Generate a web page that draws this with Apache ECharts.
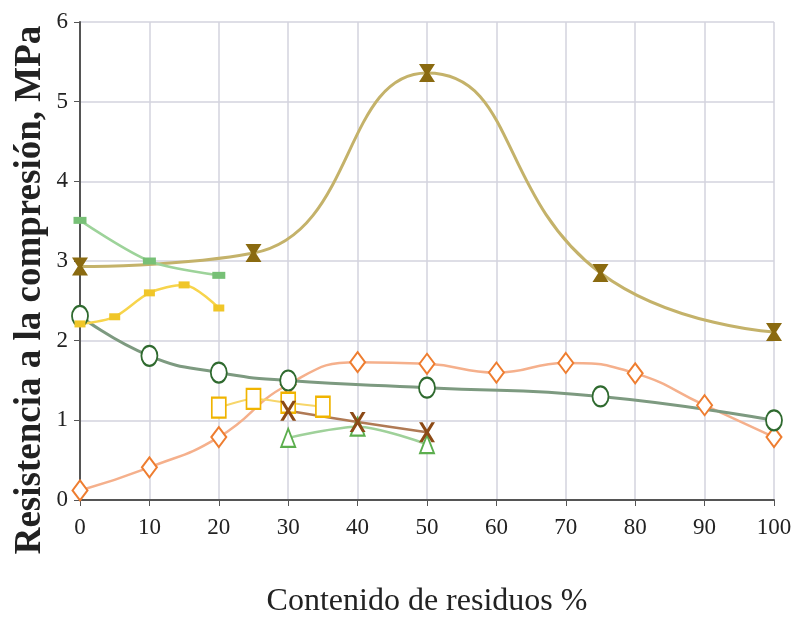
<!DOCTYPE html>
<html><head><meta charset="utf-8">
<script src="https://cdn.jsdelivr.net/npm/echarts@6/dist/echarts.min.js"></script>
<style>html,body{margin:0;padding:0;background:#fff}#c{width:793px;height:620px}</style>
</head><body><div id="c"></div>
<script>
const xTicks = [0,10,20,30,40,50,60,70,80,90,100];
const yTicks = [0,1,2,3,4,5,6];
const sStarX = [0,25,50,75,100];
const sStarY = [2.93,3.1,5.36,2.85,2.11];
const sLgX = [0,10,20];
const sLgY = [3.51,3.0,2.82];
const sYsX = [0,5,10,15,20];
const sYsY = [2.21,2.3,2.6,2.7,2.41];
const sCirX = [0,10,20,30,50,75,100];
const sCirY = [2.31,1.81,1.6,1.5,1.41,1.3,1.0];
const sDiaX = [0,10,20,30,40,50,60,70,80,90,100];
const sDiaY = [0.12,0.41,0.79,1.45,1.73,1.71,1.6,1.72,1.59,1.19,0.79];
const sSqX = [20,25,30,35];
const sSqY = [1.16,1.27,1.22,1.17];
const sXX = [30,40,50];
const sXY = [1.12,0.98,0.85];
const sTriX = [30,40,50];
const sTriY = [0.78,0.92,0.7];
const yTitle = 'Resistencia a la compresión, MPa';
const xTitle = 'Contenido de residuos %';

const pts = (xs, ys) => xs.map((x,i)=>[x, ys[i]]);
const starPath = 'path://M1,0 L9,0 L9,1 L8.3,1 L6,5 L8.3,9 L9,9 L9,10 L1,10 L1,9 L1.7,9 L4,5 L1.7,1 L1,1 Z M0,0 L2.5,0 L5,3.4 L7.5,0 L10,0 L6.4,5 L10,10 L7.5,10 L5,6.6 L2.5,10 L0,10 L3.6,5 Z';
const xPath = 'path://M0,0 L2.2,0 L5,3.6 L7.8,0 L10,0 L6.2,5 L10,10 L7.8,10 L5,6.4 L2.2,10 L0,10 L3.8,5 Z';

const chart = echarts.init(document.getElementById('c'));
const serif = '"Liberation Serif","DejaVu Serif",serif';
chart.setOption({
  animation:false,
  grid:{left:80,right:19,top:22,bottom:120,containLabel:false,outerBoundsMode:'none'},
  graphic:[{type:'text',x:30,y:290,rotation:Math.PI/2,
    style:{text:yTitle,x:0,y:0,align:'center',verticalAlign:'middle',fill:'#222',
      font:'bold 37px "Liberation Serif","DejaVu Serif",serif'}}],
  xAxis:{type:'value',min:0,max:100,interval:10,
    axisLine:{lineStyle:{color:'#555',width:2}},
    axisTick:{show:true,length:6,lineStyle:{color:'#555'}},
    axisLabel:{color:'#222',fontFamily:serif,fontSize:23,margin:16},
    splitLine:{show:true,lineStyle:{color:'#d3d3de',width:1.5}},
    name:xTitle,nameLocation:'middle',nameGap:86,
    nameTextStyle:{color:'#222',fontFamily:serif,fontSize:32}},
  yAxis:{type:'value',min:0,max:6,interval:1,
    axisLine:{show:true,lineStyle:{color:'#555',width:2}},
    axisTick:{show:true,length:6,lineStyle:{color:'#555'}},
    axisLabel:{color:'#222',fontFamily:serif,fontSize:23,margin:12},
    splitLine:{show:true,lineStyle:{color:'#d3d3de',width:1.5}}},
  series:[
    {type:'line',data:pts(sDiaX,sDiaY),smooth:0.5,symbol:'emptyDiamond',symbolSize:[15,20],
      lineStyle:{color:'#f5b08c',width:2.5},itemStyle:{color:'#ee7d30',borderWidth:2.5,borderColor:'#ee7d30'}},
    {type:'line',data:pts(sCirX,sCirY),smooth:0.5,symbol:'emptyCircle',symbolSize:[16,20],
      lineStyle:{color:'#7d9a80',width:3},itemStyle:{color:'#2f6a2f',borderWidth:3,borderColor:'#2f6a2f'}},
    {type:'line',data:pts(sStarX,sStarY),smooth:0.5,symbol:starPath,symbolSize:[16,18],
      lineStyle:{color:'#c4b26a',width:3},itemStyle:{color:'#8a6a10'}},
    {type:'line',data:pts(sLgX,sLgY),smooth:0.3,symbol:'rect',symbolSize:[13,7],
      lineStyle:{color:'#9dd39a',width:2.5},itemStyle:{color:'#77c076'}},
    {type:'line',data:pts(sYsX,sYsY),smooth:0.3,symbol:'rect',symbolSize:[11,7],
      lineStyle:{color:'#f7d44c',width:2.5},itemStyle:{color:'#f0c628'}},
    {type:'line',data:pts(sSqX,sSqY),smooth:0.2,symbol:'emptyRect',symbolSize:[14,20],
      lineStyle:{color:'#f7d66a',width:2},itemStyle:{color:'#f0b400',borderWidth:3,borderColor:'#f0b400'}},
    {type:'line',data:pts(sTriX,sTriY),smooth:0.3,symbol:'emptyTriangle',symbolSize:[14,18],
      lineStyle:{color:'#9fd19a',width:2.5},itemStyle:{color:'#5cae4e',borderWidth:2.5,borderColor:'#5cae4e'}},
    {type:'line',data:pts(sXX,sXY),smooth:0.3,symbol:xPath,symbolSize:[16,20],
      lineStyle:{color:'#b07a55',width:2.5},itemStyle:{color:'#8c4a16'}}
  ]
});
</script></body></html>
